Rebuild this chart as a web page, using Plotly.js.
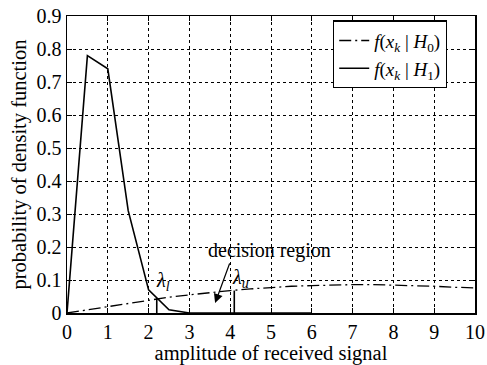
<!DOCTYPE html>
<html><head><meta charset="utf-8">
<script src="https://cdn.plot.ly/plotly-3.0.1.min.js"></script>
<style>body{margin:0}</style></head>
<body><div id="c" style="width:487px;height:365px"></div>
<script>
const h0X = [0, 0.5, 1, 1.5, 2, 2.5, 3, 3.5, 4, 4.5, 5, 5.5, 6, 6.5, 7, 7.5, 8, 8.5, 9, 9.5, 10];
const h0Y = [0, 0.01, 0.02, 0.03, 0.04, 0.048, 0.055, 0.062, 0.068, 0.073, 0.078, 0.081, 0.083, 0.085, 0.086, 0.086, 0.085, 0.083, 0.081, 0.078, 0.076];
const h1X = [0, 0.5, 1, 1.5, 2, 2.5, 3, 4, 5, 6];
const h1Y = [0, 0.78, 0.74, 0.31, 0.07, 0.01, 0, 0, 0, 0];
const lambdaL = 2.2, lambdaU = 4.1;
const lambdaLTop = 0.045, lambdaUTop = 0.068;
const xTicks = [0,1,2,3,4,5,6,7,8,9,10];
const yTicks = [0,0.1,0.2,0.3,0.4,0.5,0.6,0.7,0.8,0.9];
const yTickText = ['0','0.1','0.2','0.3','0.4','0.5','0.6','0.7','0.8','0.9'];

function F(sz) { return {family: 'Liberation Serif', color: '#000', size: sz || 20}; }
const traces = [
  {x: h0X, y: h0Y, mode: 'lines', line: {color: '#000', width: 1.3, dash: '12px,4px,2px,4px'},
   name: '<i>f</i>(<i>x<sub>k</sub></i> | <i>H</i><sub>0</sub>)'},
  {x: h1X, y: h1Y, mode: 'lines', line: {color: '#000', width: 1.6},
   name: '<i>f</i>(<i>x<sub>k</sub></i> | <i>H</i><sub>1</sub>)'},
  {x: [lambdaL, lambdaL], y: [0, lambdaLTop], mode: 'lines', line: {color: '#000', width: 1.6}, showlegend: false},
  {x: [lambdaU, lambdaU], y: [0, lambdaUTop], mode: 'lines', line: {color: '#000', width: 1.6}, showlegend: false}
];
function axis(extra) {
  return Object.assign({showline: true, mirror: 'ticks', linecolor: '#000', linewidth: 1.5,
    ticks: 'inside', ticklen: 5, tickcolor: '#000', showgrid: true, gridcolor: '#000',
    griddash: 'dot', gridwidth: 1, zeroline: false, tickfont: F()}, extra);
}
const layout = {
  width: 487, height: 365,
  margin: {l: 67, r: 12, t: 16, b: 52},
  paper_bgcolor: '#fff', plot_bgcolor: '#fff',
  font: F(),
  xaxis: axis({range: [0, 10], tickvals: xTicks,
    title: {text: 'amplitude of received signal', font: F(20.5), standoff: 0}}),
  yaxis: axis({range: [0, 0.9], tickvals: yTicks, ticktext: yTickText,
    title: {text: 'probability of density function', font: F(20.5), standoff: 4}}),
  legend: {x: 0.652, y: 0.985, xanchor: 'left', yanchor: 'top', bgcolor: '#fff',
    bordercolor: '#000', borderwidth: 1.2, font: F(19), tracegroupgap: 0},
  annotations: [
    {x: 3.63, y: 0.03, ax: 4.0, ay: 0.155, axref: 'x', ayref: 'y', showarrow: true,
     arrowhead: 2, arrowsize: 1.4, arrowwidth: 1.3, arrowcolor: '#000', text: ''},
    {x: 4.97, y: 0.19, text: 'decision region', showarrow: false, font: F()},
    {x: 2.35, y: 0.094, text: '<i>λ<sub>l</sub></i>', showarrow: false, font: F()},
    {x: 4.25, y: 0.106, text: '<i>λ<sub>u</sub></i>', showarrow: false, font: F()}
  ]
};
Plotly.newPlot('c', traces, layout, {displayModeBar: false, staticPlot: true});
</script></body></html>
